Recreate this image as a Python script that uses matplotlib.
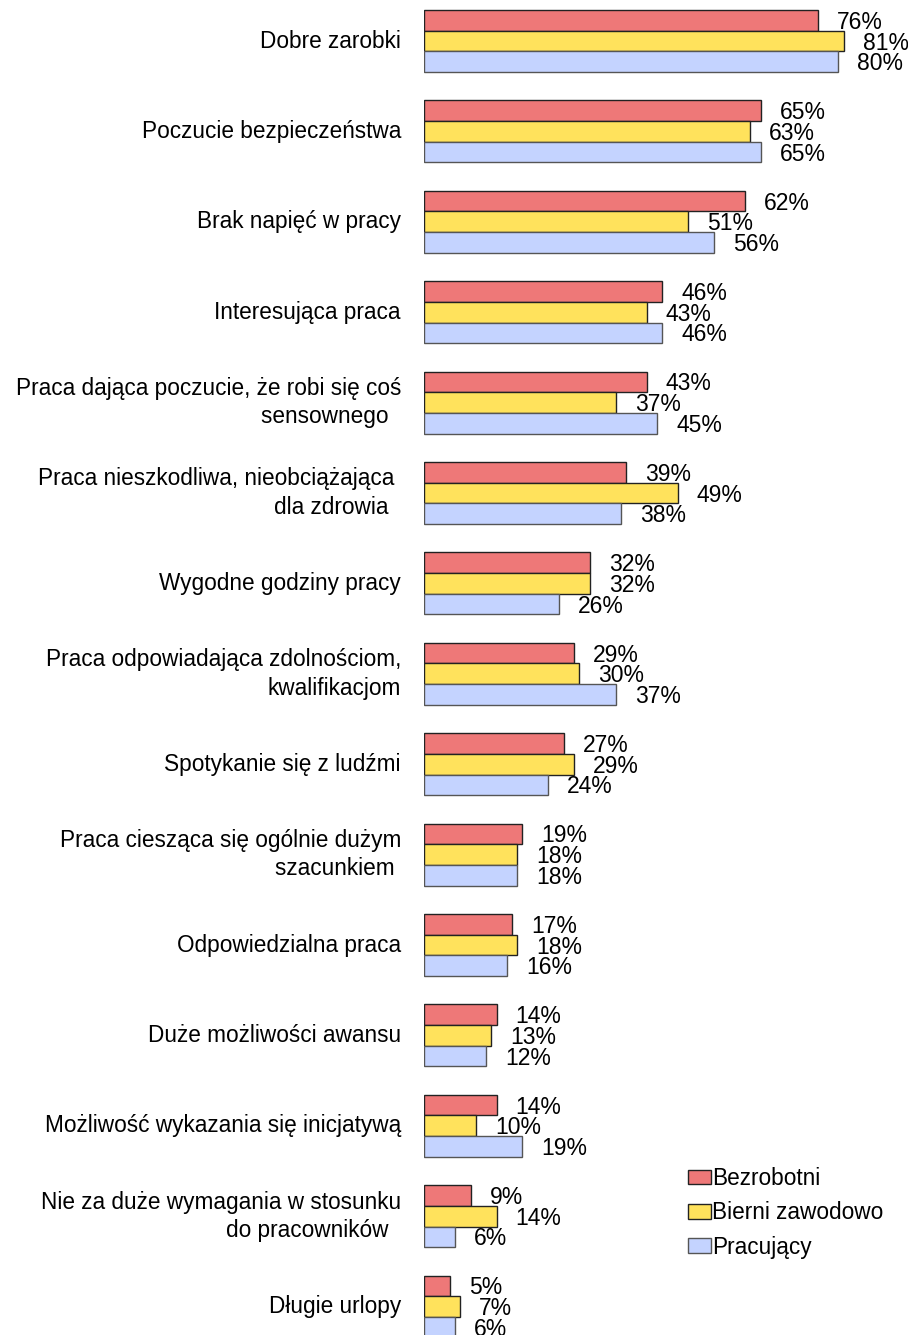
import numpy as np
import matplotlib
matplotlib.use('Agg')
import matplotlib.pyplot as plt

plt.rcParams['font.family'] = ['Liberation Sans', 'DejaVu Sans']

kategorie = [
    'Dobre zarobki',
    'Poczucie bezpieczeństwa',
    'Brak napięć w pracy',
    'Interesująca praca',
    'Praca dająca poczucie, że robi się coś\nsensownego  ',
    'Praca nieszkodliwa, nieobciążająca \ndla zdrowia  ',
    'Wygodne godziny pracy',
    'Praca odpowiadająca zdolnościom,\nkwalifikacjom',
    'Spotykanie się z ludźmi',
    'Praca ciesząca się ogólnie dużym\nszacunkiem ',
    'Odpowiedzialna praca',
    'Duże możliwości awansu',
    'Możliwość wykazania się inicjatywą',
    'Nie za duże wymagania w stosunku\ndo pracowników  ',
    'Długie urlopy',
]
bezrobotni = [76, 65, 62, 46, 43, 39, 32, 29, 27, 19, 17, 14, 14, 9, 5]
bierni = [81, 63, 51, 43, 37, 49, 32, 30, 29, 18, 18, 13, 10, 14, 7]
pracujacy = [80, 65, 56, 46, 45, 38, 26, 37, 24, 18, 16, 12, 19, 6, 6]

serie = ['Bezrobotni', 'Bierni zawodowo', 'Pracujący']
kolory = ['#EE7878', '#FFE25C', '#C4D3FF']
krawedzie = ['#222222', '#222222', '#555555']

fig = plt.figure(figsize=(9.08, 13.35), dpi=100)
ax = fig.add_axes([424 / 908, 0, 1 - 424 / 908, 1])

y = np.arange(len(kategorie))
h = 0.229
for k, (dane, kol, kr, nazwa) in enumerate(zip([bezrobotni, bierni, pracujacy], kolory, krawedzie, serie)):
    pos = y + (k - 1) * h
    ax.barh(pos, dane, height=h, color=kol, edgecolor=kr, linewidth=1, label=nazwa)
    for p, v in zip(pos, dane):
        ax.annotate(f'{v}%', (v, p), xytext=(19, -2), textcoords='offset pixels',
                    ha='left', va='center', fontsize=16.5)

for yy, lab in zip(y, kategorie):
    ax.annotate(lab, (0, yy), xytext=(-23, 0), textcoords='offset pixels',
                ha='right', va='center', multialignment='right', fontsize=16.3,
                linespacing=1.3, annotation_clip=False)

ax.set_xlim(0, (908 - 424) / 5.18)
ax.set_ylim((1335 - 41) / 90.4, -41 / 90.4)
ax.axis('off')

ax.legend(loc='upper left', bbox_to_anchor=(688 / 908, 1 - 1167 / 1335),
          bbox_transform=fig.transFigure, frameon=False, fontsize=16.3,
          handlelength=1.0, handleheight=0.62, handletextpad=0.05,
          labelspacing=0.5, borderpad=0, borderaxespad=0)

fig.savefig('out.png', dpi=100)
